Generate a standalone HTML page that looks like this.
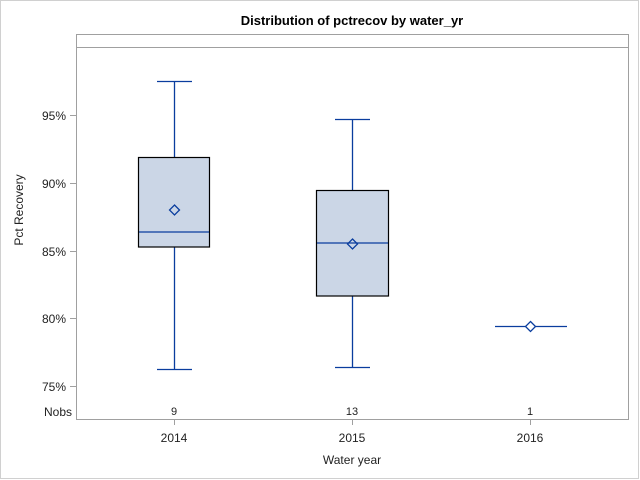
<!DOCTYPE html>
<html><head><meta charset="utf-8"><style>
body{margin:0;background:#fff}
svg{display:block;font-family:"Liberation Sans",Arial,sans-serif}
</style></head><body>
<svg width="640" height="480" xmlns="http://www.w3.org/2000/svg">
<rect x="0.5" y="0.5" width="638" height="478" fill="#fff" stroke="#d0d0d0"/>
<text x="352" y="25" text-anchor="middle" font-size="13" font-weight="bold">Distribution of pctrecov by water_yr</text>
<rect x="76.5" y="34.5" width="552" height="385" fill="#fff" stroke="#a0a0a0"/>
<line x1="76.5" y1="47.5" x2="628.5" y2="47.5" stroke="#a0a0a0"/>
<g stroke="#a0a0a0">
<line x1="70" y1="115.5" x2="76" y2="115.5"/>
<line x1="70" y1="183.5" x2="76" y2="183.5"/>
<line x1="70" y1="251.5" x2="76" y2="251.5"/>
<line x1="70" y1="318.5" x2="76" y2="318.5"/>
<line x1="70" y1="386.5" x2="76" y2="386.5"/>
<line x1="174.5" y1="420" x2="174.5" y2="425"/>
<line x1="352.5" y1="420" x2="352.5" y2="425"/>
<line x1="530.5" y1="420" x2="530.5" y2="425"/>
</g>
<g font-size="12" fill="#222" text-anchor="end">
<text x="66" y="120">95%</text>
<text x="66" y="188">90%</text>
<text x="66" y="256">85%</text>
<text x="66" y="323">80%</text>
<text x="66" y="391">75%</text>
<text x="72" y="416">Nobs</text>
</g>
<g font-size="11" fill="#222" text-anchor="middle">
<text x="174" y="415">9</text>
<text x="352" y="415">13</text>
<text x="530" y="415">1</text>
</g>
<g font-size="12" fill="#222" text-anchor="middle">
<text x="174" y="442">2014</text>
<text x="352" y="442">2015</text>
<text x="530" y="442">2016</text>
<text x="352" y="464">Water year</text>
<text transform="translate(23,210) rotate(-90)">Pct Recovery</text>
</g>
<g stroke="#0a3d9e" stroke-width="1.3" fill="none">
<line x1="174.5" y1="81.5" x2="174.5" y2="157"/>
<line x1="157" y1="81.5" x2="192" y2="81.5"/>
<line x1="174.5" y1="247" x2="174.5" y2="369.5"/>
<line x1="157" y1="369.5" x2="192" y2="369.5"/>
<line x1="352.5" y1="119.5" x2="352.5" y2="190"/>
<line x1="335" y1="119.5" x2="370" y2="119.5"/>
<line x1="352.5" y1="296" x2="352.5" y2="367.5"/>
<line x1="335" y1="367.5" x2="370" y2="367.5"/>
</g>
<rect x="138.5" y="157.5" width="71" height="89.5" fill="#cbd6e6" stroke="#000" stroke-width="1.2"/>
<rect x="316.5" y="190.5" width="72" height="105.5" fill="#cbd6e6" stroke="#000" stroke-width="1.2"/>
<g stroke="#0a3d9e" stroke-width="1.3" fill="none">
<line x1="139" y1="232" x2="209" y2="232"/>
<line x1="317" y1="243" x2="388" y2="243"/>
<line x1="495" y1="326.5" x2="567" y2="326.5"/>
<path d="M174.5 205 L179.5 210 L174.5 215 L169.5 210 Z"/>
<path d="M352.5 239 L357.5 244 L352.5 249 L347.5 244 Z"/>
<path d="M530.5 321.5 L535.5 326.5 L530.5 331.5 L525.5 326.5 Z" fill="#fff"/>
</g>
</svg>
</body></html>
